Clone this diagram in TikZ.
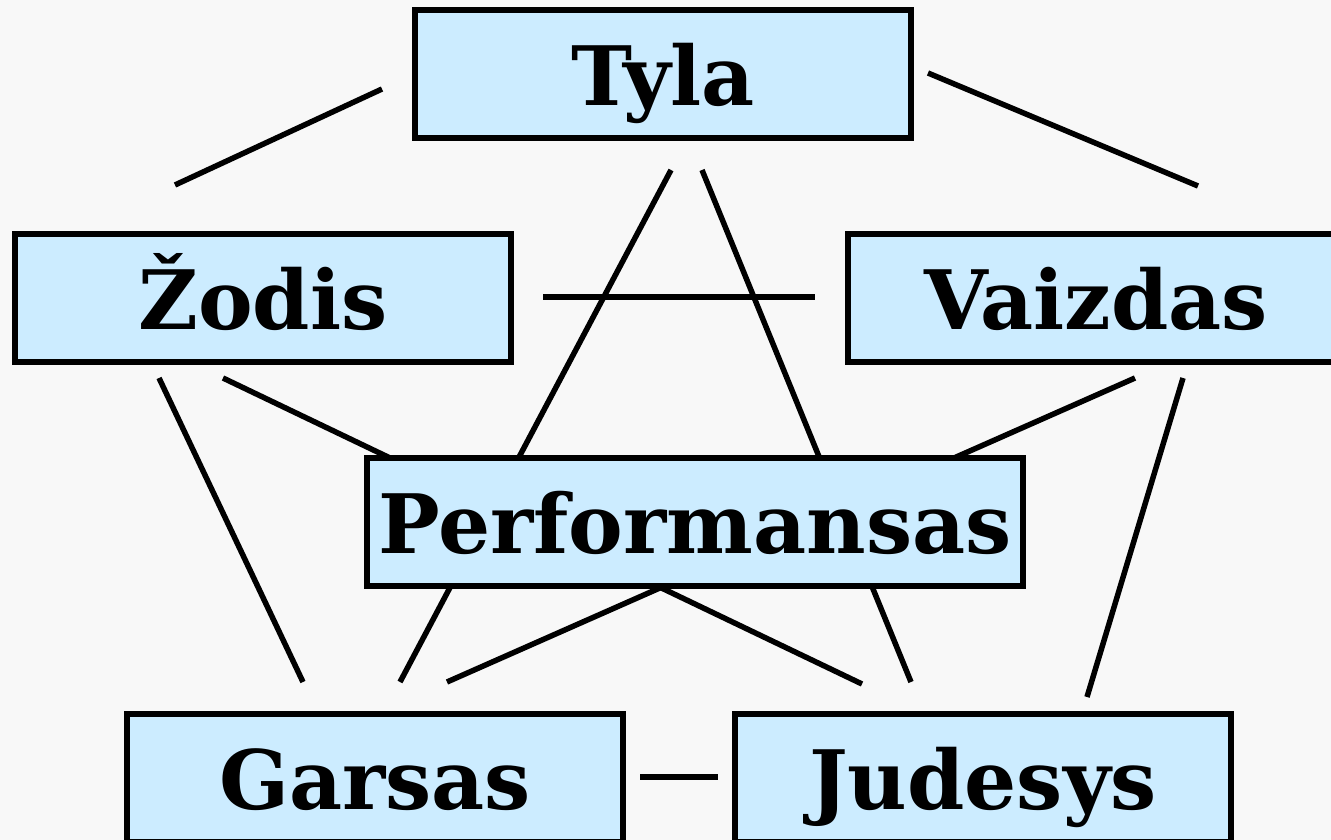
\documentclass[tikz,border=0pt]{standalone}
\usepackage{fontspec}
\setmainfont{DejaVu Serif}
\definecolor{boxfill}{RGB}{204,236,255}
\definecolor{bgcol}{RGB}{248,248,248}
\pgfdeclarelayer{bglayer}
\pgfdeclarelayer{linelayer}
\pgfsetlayers{bglayer,linelayer,main}
\begin{document}
\begin{tikzpicture}[x=1pt,y=-1pt,
  box/.style={draw=black, line width=6pt, fill=boxfill, minimum width=496pt,
    minimum height=128pt, inner sep=0pt,
    font=\fontsize{82}{92}\selectfont\bfseries, text height=71pt, text depth=8pt},
  link/.style={draw=black, line width=5.5pt}]
\useasboundingbox (0,0) rectangle (1331,840);
\begin{pgfonlayer}{bglayer}
\fill[bgcol] (0,0) rectangle (1331,840);
\end{pgfonlayer}
\begin{scope}
\clip (0,0) rectangle (1331,840);
\node[box] (tyla) at (663,73.7) {Tyla};
\node[box] (zodis) at (263,297.7) {Žodis};
\node[box] (vaizdas) at (1096,297.7) {Vaizdas};
\node[box, minimum width=656pt] (perf) at (695,521.8) {Performansas};
\node[box] (garsas) at (375,777.7) {Garsas};
\node[box] (judesys) at (983,777.7) {Judesys};
\end{scope}
% connector end points
\coordinate (tz1) at (382,89);   \coordinate (tz2) at (175,185);
\coordinate (tv1) at (928,73);   \coordinate (tv2) at (1198,186);
\coordinate (tg1) at (671,170);  \coordinate (tg2) at (400,682);
\coordinate (tj1) at (702,170);  \coordinate (tj2) at (911,682);
\coordinate (zv1) at (543,297);  \coordinate (zv2) at (815,297);
\coordinate (zg1) at (159,378);  \coordinate (zg2) at (303,682);
\coordinate (zj1) at (223,378);  \coordinate (zj2) at (862,684);
\coordinate (vg1) at (1135,378); \coordinate (vg2) at (447,682);
\coordinate (vj1) at (1183,378); \coordinate (vj2) at (1087,697);
\coordinate (gj1) at (640,777);  \coordinate (gj2) at (718,777);
\begin{pgfonlayer}{linelayer}
\draw[link] (tz1) -- (tz2);
\draw[link] (tv1) -- (tv2);
\draw[link] (tg1) -- (tg2);
\draw[link] (tj1) -- (tj2);
\draw[link] (zv1) -- (zv2);
\draw[link] (zg1) -- (zg2);
\draw[link] (zj1) -- (zj2);
\draw[link] (vg1) -- (vg2);
\draw[link] (vj1) -- (vj2);
\draw[link] (gj1) -- (gj2);
\end{pgfonlayer}
\end{tikzpicture}
\end{document}
